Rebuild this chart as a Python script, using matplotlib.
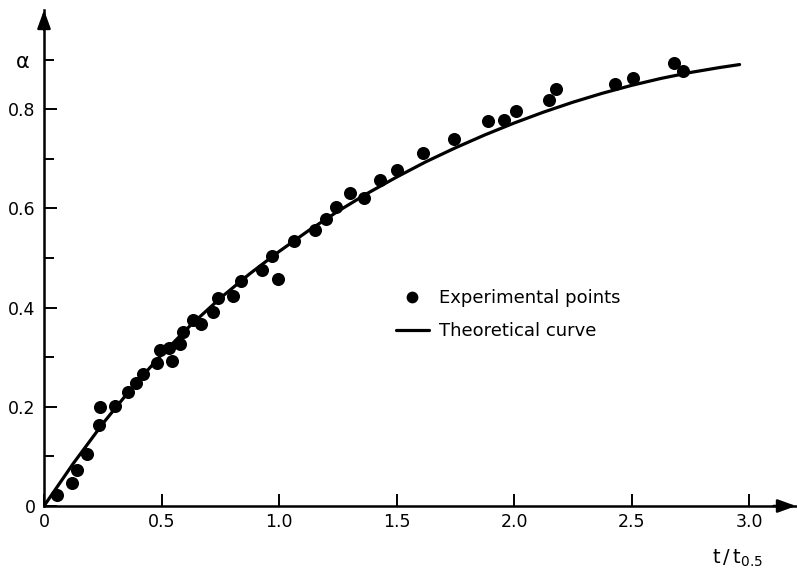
import matplotlib
matplotlib.use("Agg")
import matplotlib.pyplot as plt

# Experimental points (t/t0.5, alpha)
exp_t = [0.054, 0.118, 0.14, 0.182, 0.238, 0.234, 0.302, 0.357, 0.391, 0.421,
         0.48, 0.494, 0.53, 0.545, 0.579, 0.592, 0.634, 0.67, 0.72, 0.74,
         0.805, 0.838, 0.927, 0.97, 0.994, 1.064, 1.155, 1.198, 1.243, 1.3,
         1.362, 1.43, 1.50, 1.613, 1.745, 1.89, 1.957, 2.009, 2.149, 2.18,
         2.43, 2.506, 2.68, 2.72]
exp_a = [0.022, 0.046, 0.073, 0.105, 0.2, 0.163, 0.202, 0.23, 0.248, 0.266,
         0.288, 0.315, 0.318, 0.292, 0.327, 0.351, 0.375, 0.367, 0.391, 0.419,
         0.423, 0.454, 0.475, 0.505, 0.458, 0.535, 0.556, 0.578, 0.603, 0.631,
         0.621, 0.657, 0.677, 0.712, 0.74, 0.776, 0.778, 0.796, 0.818, 0.84,
         0.851, 0.863, 0.893, 0.877]

# Theoretical curve
th_t = [0, 0.125, 0.25, 0.375, 0.5, 0.625, 0.75, 0.875, 1.0, 1.125, 1.25,
        1.375, 1.5, 1.625, 1.75, 1.875, 2.0, 2.125, 2.25, 2.375, 2.5, 2.625,
        2.75, 2.875, 2.96]
th_a = [0, 0.086, 0.166, 0.239, 0.305, 0.365, 0.419, 0.468, 0.513, 0.555,
        0.594, 0.630, 0.663, 0.694, 0.722, 0.748, 0.772, 0.794, 0.814, 0.832,
        0.848, 0.862, 0.874, 0.884, 0.890]

x_ticks = [0, 0.5, 1.0, 1.5, 2.0, 2.5, 3.0]
x_labels = ["0", "0.5", "1.0", "1.5", "2.0", "2.5", "3.0"]
y_major = [0, 0.2, 0.4, 0.6, 0.8]
y_major_labels = ["0", "0.2", "0.4", "0.6", "0.8"]
y_minor = [0.1, 0.3, 0.5, 0.7, 0.9]
y_minor_labels = ["", "", "", "", "α"]

plt.rcParams['font.family'] = ['DejaVu Sans']

W, H = 797, 569
fig = plt.figure(figsize=(W / 100, H / 100), dpi=100)
ax = fig.add_axes([44 / W, (H - 506) / H, 752 / W, 496 / H])

ax.plot(th_t, th_a, color='black', lw=2.3, solid_capstyle='round',
        solid_joinstyle='round', label='Theoretical curve', zorder=3)
ax.plot(exp_t, exp_a, 'o', color='black', ms=9.4, mew=0, ls='none',
        label='Experimental points', zorder=4)

ax.set_xlim(0, 3.2)
ax.set_ylim(0, 1.0)

for s in ['top', 'right']:
    ax.spines[s].set_visible(False)
for s in ['left', 'bottom']:
    ax.spines[s].set_linewidth(1.8)

ax.set_xticks(x_ticks)
ax.set_xticklabels(x_labels)
ax.set_yticks(y_major)
ax.set_yticklabels(y_major_labels)
ax.set_yticks(y_minor, minor=True)
ax.set_yticklabels(y_minor_labels, minor=True)

ax.tick_params(axis='x', direction='in', length=9, width=1.4, labelsize=12.5, pad=5)
ax.tick_params(axis='y', which='major', direction='in', length=9, width=1.4,
               labelsize=12.5, pad=6)
ax.tick_params(axis='y', which='minor', direction='in', length=7, width=1.4,
               labelsize=15, pad=10)

# Arrow heads on axes
ax.annotate('', xy=(0, 1.0), xycoords='axes fraction', xytext=(0, 0.96),
            textcoords='axes fraction',
            arrowprops=dict(arrowstyle='-|>,head_length=1.1,head_width=0.4',
                            color='black', lw=1.8, shrinkA=0, shrinkB=0),
            annotation_clip=False)
ax.annotate('', xy=(1.0, 0), xycoords='axes fraction', xytext=(0.97, 0),
            textcoords='axes fraction',
            arrowprops=dict(arrowstyle='-|>,head_length=1.1,head_width=0.4',
                            color='black', lw=1.8, shrinkA=0, shrinkB=0),
            annotation_clip=False)

# Axis label
fig.text(712 / W, 1 - 558 / H, r'$\mathsf{t\,/\,t_{0.5}}$', fontsize=14,
         ha='left', va='center')

handles, labels = ax.get_legend_handles_labels()
leg = ax.legend(handles[::-1], labels[::-1], loc='upper left',
                bbox_to_anchor=(396 / W, 1 - 289 / H),
                bbox_transform=fig.transFigure, frameon=False, fontsize=13,
                handlelength=1.8, handletextpad=0.6, labelspacing=0.85,
                borderpad=0, borderaxespad=0, markerscale=0.9)

fig.savefig('out.png', dpi=100)
